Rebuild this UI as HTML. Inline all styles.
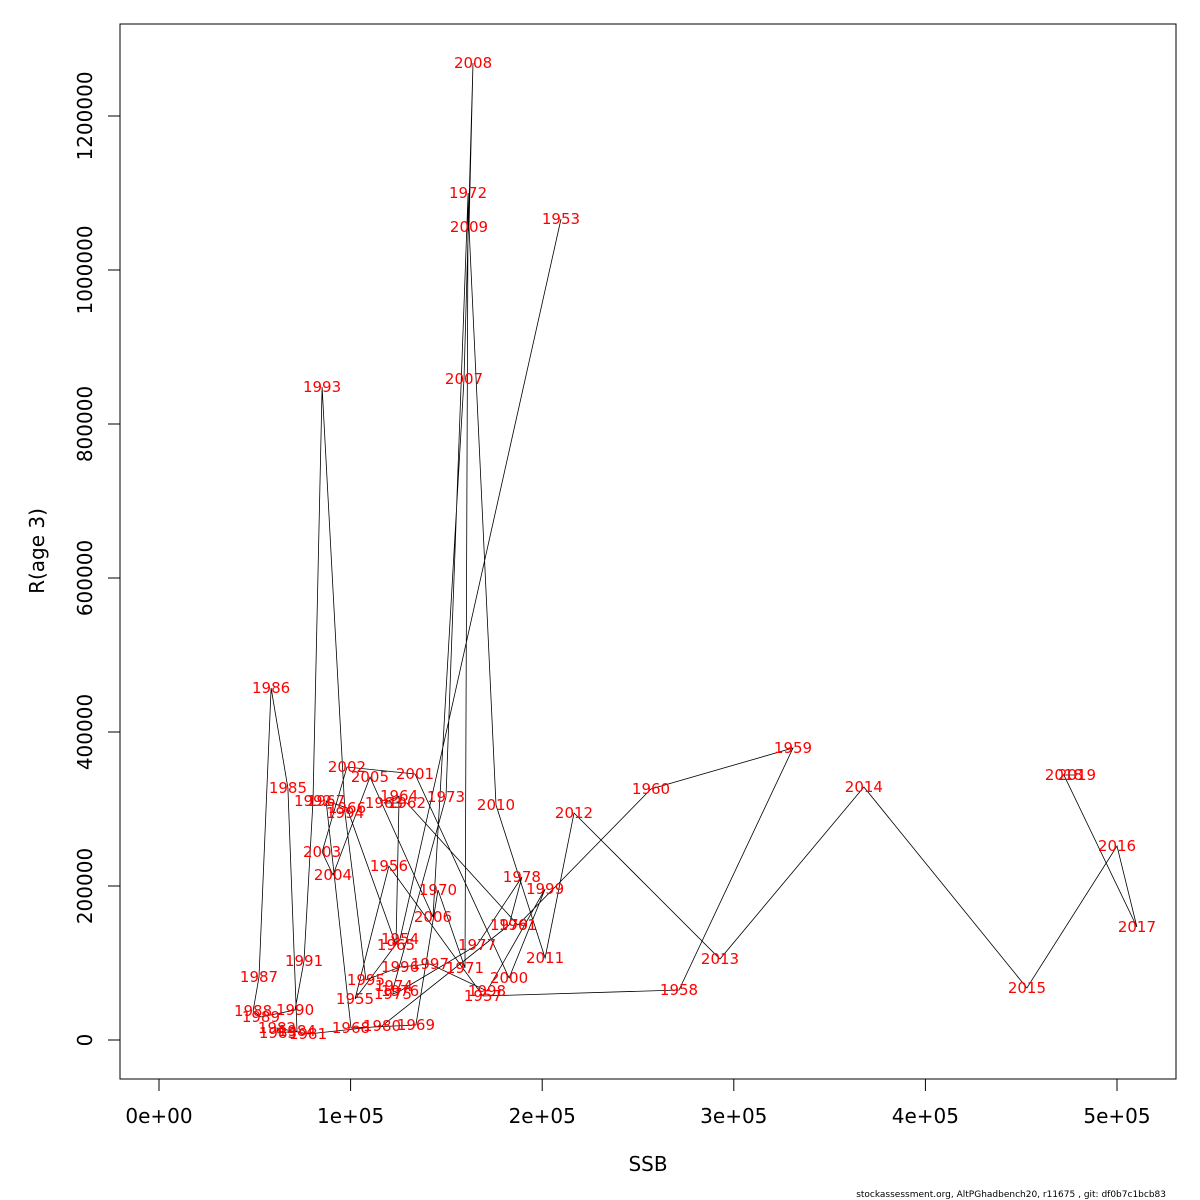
<!DOCTYPE html>
<html><head><meta charset="utf-8"><style>
html,body{margin:0;padding:0;background:#fff;}
svg{display:block;font-family:"DejaVu Sans","Liberation Sans",sans-serif;}
</style></head><body>
<svg id="chart" width="1200" height="1200" viewBox="0 0 1200 1200">
<rect x="120" y="24" width="1056" height="1055" fill="none" stroke="#000" stroke-width="1"/>
<g id="xaxis"></g>
<g id="yaxis"></g>
<g id="series"></g>
<text x="648" y="1171" font-size="20" text-anchor="middle">SSB</text>
<text x="0" y="0" font-size="20" text-anchor="middle" transform="translate(44,551) rotate(-90)">R(age 3)</text>
<text x="1166" y="1197" font-size="9" text-anchor="end">stockassessment.org, AltPGhadbench20, r11675 , git: df0b7c1bcb83</text>
</svg>
<script>
const years=[1953,1954,1955,1956,1957,1958,1959,1960,1961,1962,1963,1964,1965,1966,1967,1968,1969,1970,1971,1972,1973,1974,1975,1976,1977,1978,1979,1980,1981,1982,1983,1984,1985,1986,1987,1988,1989,1990,1991,1992,1993,1994,1995,1996,1997,1998,1999,2000,2001,2002,2003,2004,2005,2006,2007,2008,2009,2010,2011,2012,2013,2014,2015,2016,2017,2018,2019];
const ssb=[209800,125800,102300,120000,169100,271400,330900,256800,187300,129400,117400,125300,123700,98100,87200,100200,134100,145600,159700,161300,149800,122600,122100,125800,166000,189400,182700,116400,77800,61600,62100,72000,67300,58500,52200,49100,53200,71000,75700,80400,85100,97100,108000,125800,141400,171200,201500,182700,133600,98100,85100,90800,110100,143000,159200,163900,161800,175900,201500,216600,292800,367900,453000,500000,510400,472300,479100];
const rec=[1066200,131200,53200,226000,57100,64900,379200,326000,149400,307800,307800,316900,123400,301300,310400,15600,19500,194800,93500,1100000,315600,70100,59700,63600,123400,211700,149400,18200,7800,15600,9100,11700,327300,457100,81800,37700,29900,39000,102600,310400,848000,294800,77900,94800,98700,63600,196100,80500,345500,354500,244200,214300,341600,159700,858400,1268800,1055800,305200,106500,294800,105200,328600,67500,251900,146800,344200,344200];
const xTicks=[0,100000,200000,300000,400000,500000];
const xTickLabels=["0e+00","1e+05","2e+05","3e+05","4e+05","5e+05"];
const yTicks=[0,200000,400000,600000,800000,1000000,1200000];
const yTickLabels=["0","200000","400000","600000","800000","1000000","1200000"];

const NS="http://www.w3.org/2000/svg";
function sx(v){return 159+v*(1117-159)/500000;}
function sy(v){return 1040-v*(1040-116)/1200000;}
function mk(tag,attrs,parent){const e=document.createElementNS(NS,tag);for(const k in attrs)e.setAttribute(k,attrs[k]);parent.appendChild(e);return e;}

const xa=document.getElementById('xaxis');
mk('line',{x1:sx(xTicks[0]),x2:sx(xTicks[xTicks.length-1]),y1:1079,y2:1079,stroke:'#000'},xa);
xTicks.forEach((t,i)=>{
  const l=mk('line',{x1:sx(t),x2:sx(t),y1:1079,y2:1091,stroke:'#000'},xa);
  
  
  const tx=mk('text',{x:sx(t),y:1123,'font-size':20,'text-anchor':'middle'},xa);
  tx.textContent=xTickLabels[i];
  
  
});
const ya=document.getElementById('yaxis');
mk('line',{x1:120,x2:120,y1:sy(yTicks[0]),y2:sy(yTicks[yTicks.length-1]),stroke:'#000'},ya);
yTicks.forEach((t,i)=>{
  const l=mk('line',{x1:108,x2:120,y1:sy(t),y2:sy(t),stroke:'#000'},ya);
  
  
  const tx=mk('text',{x:0,y:0,'font-size':20,'text-anchor':'middle',transform:`translate(92,${sy(t)}) rotate(-90)`},ya);
  tx.textContent=yTickLabels[i];
  
  
});

const sg=document.getElementById('series');
const pts=years.map((y,i)=>sx(ssb[i]).toFixed(1)+','+sy(rec[i]).toFixed(1)).join(' ');
const pl=mk('polyline',{points:pts,fill:'none',stroke:'#000','stroke-width':0.8},sg);


years.forEach((y,i)=>{
  const t=mk('text',{x:sx(ssb[i]),y:sy(rec[i])+5,'font-size':15,'text-anchor':'middle',fill:'#ff0000'},sg);
  t.textContent=y;
  
  
});
</script>
</body></html>
